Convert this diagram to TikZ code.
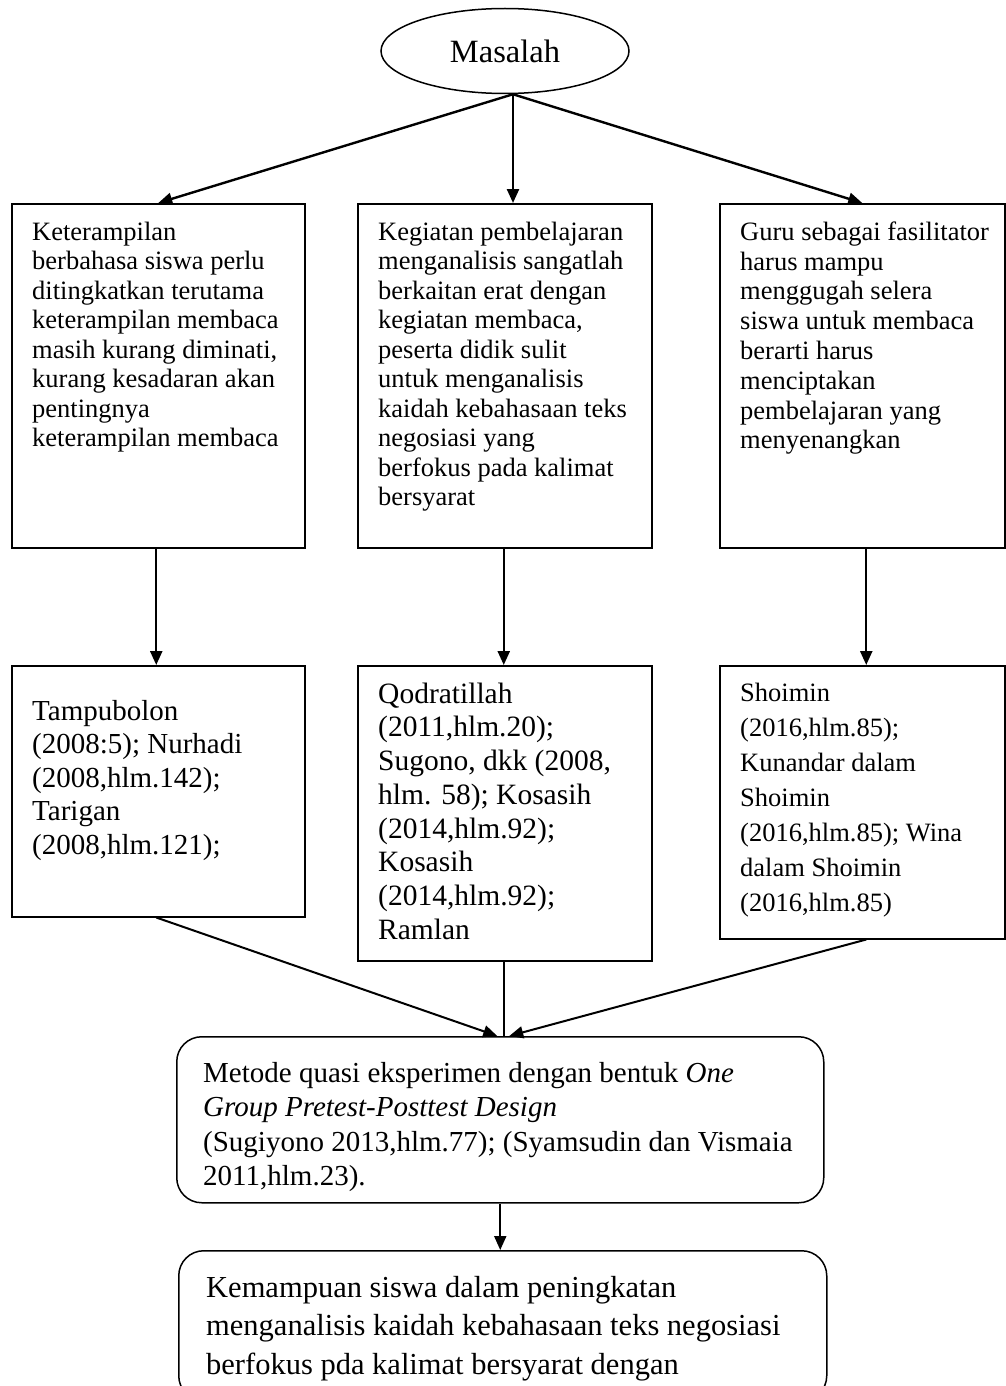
\documentclass[tikz,border=0pt]{standalone}
\usepackage{fontspec}
\setmainfont{Liberation Serif}
\usetikzlibrary{arrows.meta,shapes.geometric}
\begin{document}
\begin{tikzpicture}[x=1pt,y=-1pt,
  box/.style={draw, line width=1.5pt, inner sep=0pt, anchor=north west},
  txt/.style={anchor=north west, inner sep=0pt, align=left},
  arr/.style={line width=2.4pt, -{Triangle[length=14pt,width=12pt]}},
  thinln/.style={line width=1.5pt}]
\useasboundingbox (0,0) rectangle (1005,1386);

\node[draw, ellipse, line width=1.5pt, minimum width=248pt, minimum height=85pt, inner sep=0pt,
  font=\fontsize{32.5}{36}\selectfont] (el) at (505,51) {Masalah};
\coordinate (apex) at ([xshift=8pt]el.south);

% row 1
\node[box, minimum width=293pt, minimum height=344pt] (b1) at (11,203) {};
\node[box, minimum width=294pt, minimum height=344pt] (b2) at (357,203) {};
\node[box, minimum width=285pt, minimum height=344pt] (b3) at (719,203) {};

\node[txt, font=\fontsize{26.5}{29.5}\selectfont] (t1) at (32,219.4) {\strut Keterampilan\\berbahasa siswa perlu\\ditingkatkan terutama\\keterampilan membaca\\masih kurang diminati,\\kurang kesadaran akan\\pentingnya\\keterampilan membaca};
\node[txt, font=\fontsize{26.5}{29.5}\selectfont] (t2) at (378,219.4) {\strut Kegiatan pembelajaran\\menganalisis sangatlah\\berkaitan erat dengan\\kegiatan membaca,\\peserta didik sulit\\untuk menganalisis\\kaidah kebahasaan teks\\negosiasi yang\\berfokus pada kalimat\\bersyarat};
\node[txt, font=\fontsize{26.5}{29.8}\selectfont] (t3) at (740,219.2) {\strut Guru sebagai fasilitator\\harus mampu\\menggugah selera\\siswa untuk membaca\\berarti harus\\menciptakan\\pembelajaran yang\\menyenangkan};

% row 2
\node[box, minimum width=293pt, minimum height=251pt] (b4) at (11,665) {};
\node[box, minimum width=294pt, minimum height=295pt] (b5) at (357,665) {};
\node[box, minimum width=285pt, minimum height=273pt] (b6) at (719,665) {};

\node[txt, font=\fontsize{29}{33.5}\selectfont] (t4) at (32,696.5) {\strut Tampubolon\\(2008:5); Nurhadi\\(2008,hlm.142);\\Tarigan\\(2008,hlm.121);};
\node[txt, font=\fontsize{29.5}{33.7}\selectfont] (t5) at (378,679.4) {\strut Qodratillah\\(2011,hlm.20);\\Sugono, dkk (2008,\\hlm. 58); Kosasih\\(2014,hlm.92);\\Kosasih\\(2014,hlm.92);\\Ramlan};
\node[txt, font=\fontsize{26.5}{35}\selectfont] (t6) at (740,676.5) {\strut Shoimin\\(2016,hlm.85);\\Kunandar dalam\\Shoimin\\(2016,hlm.85); Wina\\dalam Shoimin\\(2016,hlm.85)};

% lower boxes
\node[box, rounded corners=25pt, minimum width=647pt, minimum height=166pt] (m) at (176,1036) {};
\node[txt, font=\fontsize{29}{34.5}\selectfont] (tm) at (203,1058) {\strut Metode quasi eksperimen dengan bentuk \textit{One}\\\textit{Group Pretest-Posttest Design}\\(Sugiyono 2013,hlm.77); (Syamsudin dan Vismaia\\2011,hlm.23).};
\node[box, rounded corners=25pt, minimum width=648pt, minimum height=150pt] (bot) at (178,1250) {};
\node[txt, font=\fontsize{30.5}{38.5}\selectfont] (tb) at (206,1270) {\strut Kemampuan siswa dalam peningkatan\\menganalisis kaidah kebahasaan teks negosiasi\\berfokus pda kalimat bersyarat dengan};

% connectors
\draw[arr] (apex) -- (b1.north);
\draw[arr] (apex) -- (apex |- b2.north);
\draw[arr] (apex) -- (b3.north);

\draw[arr] ([xshift=-2pt]b1.south) -- ([xshift=-2pt]b4.north);
\draw[arr] ([xshift=-1pt]b2.south) -- ([xshift=-1pt]b5.north);
\draw[arr] ([xshift=4pt]b3.south) -- ([xshift=4pt]b6.north);

\draw[arr, line width=2pt] ([xshift=-2pt]b4.south) -- ([xshift=-3pt]m.north);
\draw[thinln] ([xshift=-1pt]b5.south) -- ([xshift=-1pt]b5.south |- m.north);
\draw[arr, line width=2pt] ([xshift=4pt]b6.south) -- ([xshift=9pt]m.north);

\draw[arr, line width=2pt] (m.south) -- (m.south |- bot.north);
\end{tikzpicture}
\end{document}
